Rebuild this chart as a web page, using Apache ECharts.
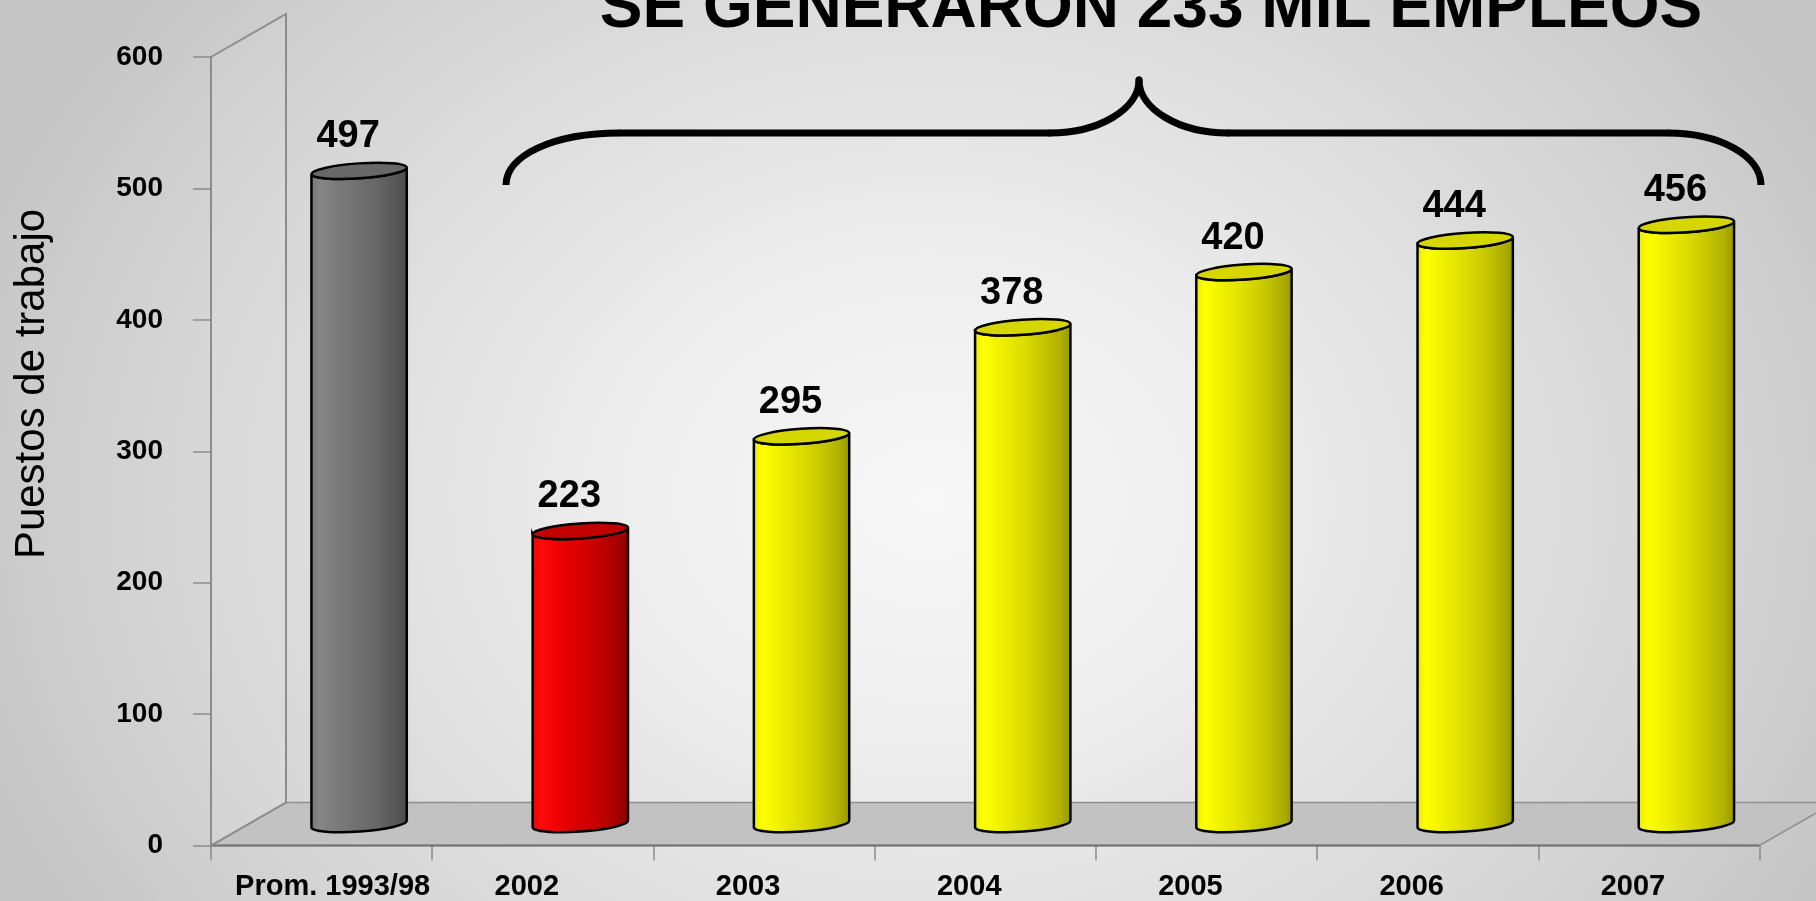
<!DOCTYPE html>
<html><head><meta charset="utf-8">
<script src="https://cdn.jsdelivr.net/npm/echarts@6/dist/echarts.min.js"></script>
<style>
html,body{margin:0;padding:0;width:1816px;height:901px;overflow:hidden;
background: radial-gradient(ellipse 1000px 800px at 930px 500px, #f8f8f8 0%, #eeeeee 30%, #d6d6d6 75%, #c6c6c6 100%);}
#chart{width:1816px;height:901px;}
</style></head><body><div id="chart"></div>
<script>
// ---- data ----
const categories = ['Prom. 1993/98', '2002', '2003', '2004', '2005', '2006', '2007'];
const values = [497, 223, 295, 378, 420, 444, 456];
const yTicks = [0, 100, 200, 300, 400, 500, 600];
const titleText = 'SE GENERARON 233 MIL EMPLEOS';
const yAxisTitle = 'Puestos de trabajo';

// ---- layout / style ----
const FONT = '"Liberation Sans", Arial, sans-serif';
const W = 1816, H = 901;
const GRID = { left: 211, right: 56.5, top: 57, bottom: 55.5 };
const DX = 75, DY = -43;          // 3D depth vector
const BAR_RATIO = 0.432;          // cylinder width / band width
const RY = 7.5, TILT = 4;         // ellipse minor radius, tilt (deg)
const PALETTES = {
  gray: { top: '#686868', stops: [[0,'#777777'],[0.1,'#868686'],[0.25,'#7c7c7c'],[0.45,'#737373'],[0.7,'#656565'],[0.9,'#555555'],[1,'#4a4a4a']] },
  red: { top: '#c20000', stops: [[0,'#ee0000'],[0.1,'#ff0a0a'],[0.3,'#ec0000'],[0.55,'#d20000'],[0.8,'#b40000'],[1,'#880000']] },
  yellow: { top: '#d6d600', stops: [[0,'#e8e800'],[0.1,'#ffff00'],[0.3,'#eeee00'],[0.5,'#dddd00'],[0.7,'#c8c800'],[0.88,'#b0b000'],[1,'#969600']] }
};
function barKind(i) { return i === 0 ? 'gray' : (i === 1 ? 'red' : 'yellow'); }

function renderItem(params, api) {
  const i = api.value(0), v = api.value(1);
  const p0 = api.coord([i, 0]);
  const p1 = api.coord([i, v]);
  const band = api.size([1, 0])[0];
  const cx = p0[0] + DX / 2;
  const by = p0[1] + DY / 2;
  const ty = p1[1] + DY / 2;
  const rx = band * BAR_RATIO / 2;
  const t = TILT * Math.PI / 180;
  const ex = rx * Math.cos(t), ey = rx * Math.sin(t);
  const pal = PALETTES[barKind(i)];
  const body = `M${cx-ex} ${ty+ey} L${cx-ex} ${by+ey} A${rx} ${RY} ${-TILT} 0 0 ${cx+ex} ${by-ey} L${cx+ex} ${ty-ey} A${rx} ${RY} ${-TILT} 0 1 ${cx-ex} ${ty+ey} Z`;
  const top = `M${cx-ex} ${ty+ey} A${rx} ${RY} ${-TILT} 0 1 ${cx+ex} ${ty-ey} A${rx} ${RY} ${-TILT} 0 1 ${cx-ex} ${ty+ey} Z`;
  return {
    type: 'group',
    children: [
      { type: 'path', shape: { pathData: body },
        style: { fill: { type: 'linear', x: 0, y: 0, x2: 1, y2: 0,
          colorStops: pal.stops.map(s => ({ offset: s[0], color: s[1] })) },
          stroke: '#000', lineWidth: 2.5 } },
      { type: 'path', shape: { pathData: top },
        style: { fill: pal.top, stroke: '#000', lineWidth: 2.5 } },
      { type: 'text', x: cx - 11, y: ty - 34,
        style: { text: String(v), font: 'bold 38px ' + FONT, fill: '#000',
          align: 'center', verticalAlign: 'middle' } }
    ]
  };
}

const FX0 = GRID.left, FX1 = W - GRID.right, FY = H - GRID.bottom, TY = GRID.top;
const BR = { x0: 506, x1: 1761, tipX: 1139, tipY: 80, midY: 133, endY: 185 };
const braceStyle = { stroke: '#000', lineWidth: 7, fill: 'none' };
const braceParts = [
  { type: 'bezierCurve', shape: { x1: BR.x0, y1: BR.endY, cpx1: BR.x0, cpy1: 156, cpx2: 552, cpy2: BR.midY, x2: 620, y2: BR.midY } },
  { type: 'line', shape: { x1: 619, y1: BR.midY, x2: 1051, y2: BR.midY } },
  { type: 'bezierCurve', shape: { x1: 1050, y1: BR.midY, cpx1: 1099, cpy1: BR.midY, cpx2: BR.tipX, cpy2: 109, x2: BR.tipX, y2: BR.tipY }, round: true },
  { type: 'bezierCurve', shape: { x1: BR.tipX, y1: BR.tipY, cpx1: BR.tipX, cpy1: 109, cpx2: 1179, cpy2: BR.midY, x2: 1228, y2: BR.midY }, round: true },
  { type: 'line', shape: { x1: 1227, y1: BR.midY, x2: 1669, y2: BR.midY } },
  { type: 'bezierCurve', shape: { x1: 1668, y1: BR.midY, cpx1: 1720, cpy1: BR.midY, cpx2: BR.x1, cpy2: 156, x2: BR.x1, y2: BR.endY } }
].map(p => ({ type: p.type, z: 5, shape: p.shape,
  style: Object.assign({}, braceStyle, { lineCap: p.round ? 'round' : 'butt' }) }));

const chart = echarts.init(document.getElementById('chart'), null, { renderer: 'canvas' });
chart.setOption({
  backgroundColor: 'transparent',
  animation: false,
  grid: { left: GRID.left, right: GRID.right, top: GRID.top, bottom: GRID.bottom, containLabel: false, outerBoundsMode: 'none' },
  xAxis: {
    type: 'category', data: categories, boundaryGap: true,
    axisLine: { show: false },
    axisTick: { show: true, length: 15, lineStyle: { color: '#8c8c8c', width: 1.5 } },
    axisLabel: {
      interval: 0, margin: 27, color: '#000',
      formatter: (v, i) => (i === 0 ? '{p|' + v + '}' : '{y|' + v + '}'),
      rich: {
        p: { fontFamily: FONT, fontWeight: 'bold', fontSize: 29, color: '#000', padding: [0, 0, 0, 22] },
        y: { fontFamily: FONT, fontWeight: 'bold', fontSize: 29, color: '#000', padding: [0, 32, 0, 0] }
      }
    },
    splitLine: { show: false }
  },
  yAxis: {
    type: 'value', min: yTicks[0], max: yTicks[yTicks.length - 1], interval: yTicks[1] - yTicks[0],
    axisLine: { show: true, lineStyle: { color: '#8c8c8c', width: 2 } },
    axisTick: { show: true, length: 18, lineStyle: { color: '#8c8c8c', width: 1.5 } },
    axisLabel: { margin: 48, color: '#000', fontFamily: FONT, fontWeight: 'bold', fontSize: 28 },
    splitLine: { show: false }
  },
  graphic: [
    { type: 'polygon', z: 1, shape: { points: [[FX0, FY], [FX1, FY], [FX1 + DX, FY + DY], [FX0 + DX, FY + DY]] },
      style: { fill: '#c2c2c2', stroke: '#8e8e8e', lineWidth: 1.5 } },
    { type: 'line', z: 1, shape: { x1: FX0, y1: FY, x2: FX1, y2: FY }, style: { stroke: '#707070', lineWidth: 2 } },
    { type: 'polygon', z: 1, shape: { points: [[FX0, TY], [FX0 + DX, TY + DY], [FX0 + DX, FY + DY], [FX0, FY]] },
      style: { fill: 'rgba(255,255,255,0.05)', stroke: '#8c8c8c', lineWidth: 2 } },
    { type: 'text', z: 5, x: 1151, y: 9,
      style: { text: titleText, font: 'bold 64px ' + FONT, fill: '#000', align: 'center', verticalAlign: 'middle' } },
    { type: 'text', z: 5, x: 32, y: 384, rotation: Math.PI / 2,
      style: { text: yAxisTitle, font: '42px ' + FONT, fill: '#000', align: 'center', verticalAlign: 'middle' } }
  ].concat(braceParts),
  series: [{
    type: 'custom', renderItem: renderItem, z: 2,
    data: values.map((v, i) => [i, v]),
    encode: { x: 0, y: 1 }
  }]
});
</script></body></html>
